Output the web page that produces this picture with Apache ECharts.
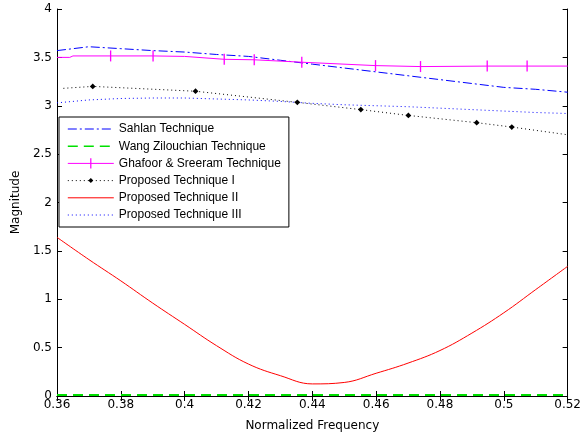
<!DOCTYPE html>
<html>
<head>
<meta charset="utf-8">
<script src="https://cdn.jsdelivr.net/npm/echarts@6/dist/echarts.min.js"></script>
<style>
  html, body { margin: 0; padding: 0; background: #fff; }
  #chart { width: 584px; height: 438px; }
</style>
</head>
<body>
<div id="chart"></div>
<script>
const freqs = [0.36, 0.37, 0.38, 0.39, 0.40, 0.41, 0.42, 0.43, 0.44, 0.45, 0.46, 0.47, 0.48, 0.49, 0.50, 0.51, 0.52];

const sahlan = [3.57, 3.61, 3.59, 3.57, 3.555, 3.53, 3.51, 3.47, 3.43, 3.39, 3.35, 3.31, 3.27, 3.23, 3.19, 3.17, 3.14];
const wang = [0.01, 0.01, 0.01, 0.01, 0.01, 0.01, 0.01, 0.01, 0.01, 0.01, 0.01, 0.01, 0.01, 0.01, 0.01, 0.01, 0.01];
const proposed2 = [1.64, 1.41, 1.19, 0.96, 0.74, 0.52, 0.33, 0.21, 0.125, 0.14, 0.235, 0.34, 0.47, 0.65, 0.86, 1.10, 1.34];
const proposed3 = [3.03, 3.06, 3.075, 3.08, 3.08, 3.07, 3.06, 3.045, 3.025, 3.01, 3.0, 2.99, 2.975, 2.96, 2.945, 2.93, 2.92];

// markers only at the inner points
const ghafoorFreqs = [0.36, 0.364, 0.365, 0.3768, 0.3901, 0.40, 0.4124, 0.4218, 0.4367, 0.4598, 0.4739, 0.4948, 0.5073, 0.52];
const ghafoor = [3.50, 3.50, 3.515, 3.515, 3.515, 3.51, 3.48, 3.475, 3.45, 3.415, 3.405, 3.41, 3.41, 3.41];
const ghafoorMarked = [false, false, false, true, true, false, true, true, true, true, true, true, true, false];

const proposed1Freqs = [0.362, 0.3712, 0.4034, 0.4353, 0.4552, 0.4701, 0.4915, 0.5025, 0.52];
const proposed1 = [3.18, 3.20, 3.15, 3.035, 2.96, 2.90, 2.825, 2.78, 2.70];
const proposed1Marked = [false, true, true, true, true, true, true, true, false];

const legendNames = ['Sahlan Technique', 'Wang Zilouchian Technique', 'Ghafoor & Sreeram Technique',
    'Proposed Technique I', 'Proposed Technique II', 'Proposed Technique III'];

const axisFont = 'DejaVu Sans';
// square-bounded paths so the legend icon keeps the mark small
const tickPath = 'path://M0,0L0,0M100,100L100,100M44,0H56V100H44Z';
const diamondPath = 'path://M0,0L0,0M100,100L100,100M50,26L74,50L50,74L26,50Z';

function pairs(xs, ys) {
    return xs.map((x, i) => [x, ys[i]]);
}

function markedPairs(xs, ys, marked) {
    return xs.map((x, i) => marked[i] ? [x, ys[i]] : {value: [x, ys[i]], symbol: 'none'});
}

const chart = echarts.init(document.getElementById('chart'));

const xBase = {
    type: 'value',
    min: 0.36,
    max: 0.52,
    interval: 0.02,
    axisLine: {lineStyle: {color: '#000', width: 1}},
    axisTick: {inside: true, length: 5, lineStyle: {color: '#000'}},
    splitLine: {show: false},
};
const yBase = {
    type: 'value',
    min: 0,
    max: 4,
    interval: 0.5,
    axisLine: {show: true, lineStyle: {color: '#000', width: 1}},
    axisTick: {show: true, inside: true, length: 5, lineStyle: {color: '#000'}},
    splitLine: {show: false},
};

const noSymbol = new Set(['Sahlan Technique', 'Wang Zilouchian Technique', 'Proposed Technique II', 'Proposed Technique III']);

chart.setOption({
    animation: false,
    backgroundColor: '#fff',
    grid: {left: 57, right: 14, top: 9, bottom: 42},
    legend: {
        orient: 'vertical',
        left: 59,
        top: 117,
        itemWidth: 46,
        itemHeight: 13,
        itemGap: 5.2,
        padding: [6, 8, 6, 8],
        backgroundColor: '#fff',
        borderColor: '#000',
        borderWidth: 1,
        borderRadius: 0,
        lineStyle: {width: 1},
        textStyle: {fontFamily: 'Liberation Sans', fontSize: 12, color: '#000'},
        data: legendNames.map(n => {
            const item = {name: n};
            if (noSymbol.has(n)) item.itemStyle = {opacity: 0};
            if (n === 'Wang Zilouchian Technique') item.lineStyle = {width: 1.6};
            return item;
        }),
    },
    xAxis: [
        Object.assign({}, xBase, {
            position: 'bottom',
            name: 'Normalized Frequency',
            nameLocation: 'middle',
            nameGap: 24,
            nameTextStyle: {fontFamily: axisFont, fontSize: 12, color: '#000'},
            axisLabel: {
                fontFamily: axisFont, fontSize: 12, color: '#000', margin: 3,
                formatter: v => String(+v.toFixed(2)),
            },
        }),
        Object.assign({}, xBase, {position: 'top', axisLabel: {show: false}}),
    ],
    yAxis: [
        Object.assign({}, yBase, {
            position: 'left',
            name: 'Magnitude',
            nameLocation: 'middle',
            nameGap: 31,
            nameTextStyle: {fontFamily: axisFont, fontSize: 12, color: '#000'},
            axisLabel: {
                fontFamily: axisFont, fontSize: 12, color: '#000', margin: 5,
                formatter: v => String(+v.toFixed(1)),
            },
        }),
        Object.assign({}, yBase, {position: 'right', axisLabel: {show: false}}),
    ],
    series: [
        {
            name: 'Sahlan Technique',
            type: 'line',
            data: pairs(freqs, sahlan),
            symbol: 'none',
            lineStyle: {color: '#0000ff', width: 1, type: [9, 3, 2, 3]},
            itemStyle: {color: '#0000ff'},
        },
        {
            name: 'Wang Zilouchian Technique',
            type: 'line',
            data: pairs(freqs, wang),
            symbol: 'none',
            lineStyle: {color: '#00e000', width: 2, type: [10, 6]},
            itemStyle: {color: '#00e000'},
        },
        {
            name: 'Ghafoor & Sreeram Technique',
            type: 'line',
            data: markedPairs(ghafoorFreqs, ghafoor, ghafoorMarked),
            symbol: tickPath,
            symbolSize: 11,
            showAllSymbol: true,
            lineStyle: {color: '#ff00ff', width: 1},
            itemStyle: {color: '#ff00ff'},
        },
        {
            name: 'Proposed Technique I',
            type: 'line',
            data: markedPairs(proposed1Freqs, proposed1, proposed1Marked),
            symbol: diamondPath,
            symbolSize: 12,
            showAllSymbol: true,
            lineStyle: {color: '#000', width: 1, type: [1, 3]},
            itemStyle: {color: '#000'},
        },
        {
            name: 'Proposed Technique II',
            type: 'line',
            data: pairs(freqs, proposed2),
            symbol: 'none',
            smooth: 0.4,
            lineStyle: {color: '#ff0000', width: 1},
            itemStyle: {color: '#ff0000'},
        },
        {
            name: 'Proposed Technique III',
            type: 'line',
            data: pairs(freqs, proposed3),
            symbol: 'none',
            lineStyle: {color: '#0000ff', width: 1, type: [1, 3]},
            itemStyle: {color: '#0000ff'},
        },
    ],
});
</script>
</body>
</html>
